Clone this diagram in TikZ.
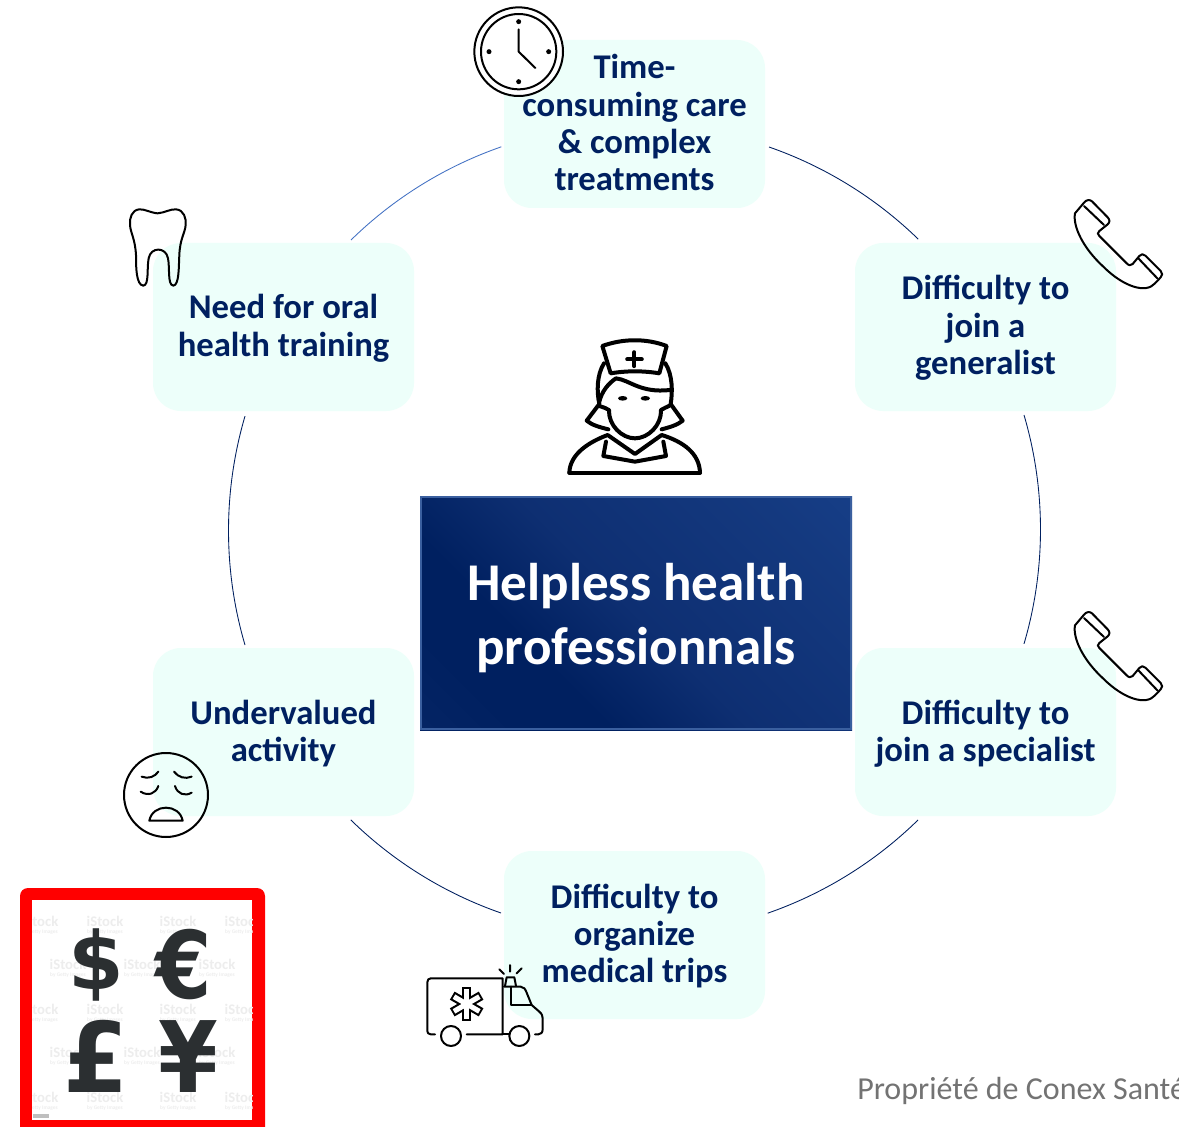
\documentclass[tikz,border=0pt]{standalone}
\usepackage{fontspec}
\usepackage{graphicx}
\setmainfont{Carlito}
\newfontfamily\moneyfont{DejaVu Sans}
\usetikzlibrary{calc}
\definecolor{navy}{HTML}{002060}
\definecolor{mint}{HTML}{EDFFFA}
\definecolor{ink}{HTML}{2B2F31}
\definecolor{arcblue}{HTML}{4472C4}
\definecolor{rimblue}{HTML}{3A5F9F}
\definecolor{gA}{HTML}{2A4A8A}
\definecolor{gB}{HTML}{082868}
\definecolor{gC}{HTML}{0E2F72}
\definecolor{gD}{HTML}{14397F}
\definecolor{gE}{HTML}{17408A}
\definecolor{gF}{HTML}{1E4A98}
\definecolor{gG}{HTML}{2A55A5}
\pgfdeclarehorizontalshading{helpless}{100bp}{
  color(0bp)=(gA); color(5bp)=(gB); color(25bp)=(navy); color(35bp)=(navy);
  color(50bp)=(gC); color(75bp)=(gD); color(90bp)=(gE); color(96bp)=(gF); color(100bp)=(gG)}
\tikzset{
  topic/.style={draw=none,fill=mint,rounded corners=21pt,minimum width=195.75pt,minimum height=126pt,inner sep=0pt,
    text=navy,font=\fontsize{26}{28}\selectfont\bfseries},
  ring/.style={draw=navy,line width=0.65pt},
  icon/.style={draw=black,line width=1.5pt,line join=round,line cap=round},
  money/.style={text=ink,font=\fontsize{70}{70}\moneyfont\bfseries,inner sep=0pt},
  wm/.style={text=black!7,font=\fontsize{11}{4}\selectfont\bfseries,inner sep=0pt,align=center},
}
% centred lines, nudged by #1 inside their panel without moving the panel
\newcommand{\toplines}[2]{\raisebox{#1}[\height][\depth]{\begin{tabular}{@{}c@{}}#2\end{tabular}}}
\newcommand{\phoneicon}{%
  \draw[icon] (45,70) -- (72,38) .. controls (80,28) and (90,28) .. (97,35) -- (143,82) .. controls (150,90) and (150,96) .. (143,103) -- (118,123) .. controls (112,128) and (112,133) .. (118,138) -- (200,220) .. controls (207,227) and (212,227) .. (218,222) -- (238,198) .. controls (244,191) and (250,191) .. (256,197) -- (302,243) .. controls (308,250) and (308,256) .. (302,262) -- (285,280) .. controls (258,312) and (190,290) .. (130,230) .. controls (70,175) and (38,110) .. (45,70) -- cycle;
  \draw[icon] (72,48) -- (132,105) (235,205) -- (292,265);
}
\begin{document}
\begin{tikzpicture}[x=0.75pt,y=-0.75pt]
\useasboundingbox (0,0) rectangle (1179,1127);
\clip (0,0) rectangle (1179,1127);
\fill[white] (0,0) rectangle (1179,1127);

% ring, arc by arc
\coordinate (a1) at (351,240);
\coordinate (a2) at (769,147);
\coordinate (a3) at (1024,415);
\coordinate (a4) at (918,820);
\coordinate (a5) at (501,913);
\coordinate (a6) at (245,645);
\draw[ring,draw=arcblue] (a1) arc[start angle=134.4,end angle=109.2,radius=304pt];
\draw[ring] (a2) arc[start angle=70.8,end angle=45.8,radius=304pt];
\draw[ring] (a3) arc[start angle=16.4,end angle=-16.4,radius=304pt];
\draw[ring] (a4) arc[start angle=-45.6,end angle=-70.8,radius=304pt];
\draw[ring] (a5) arc[start angle=-109.2,end angle=-134.4,radius=304pt];
\draw[ring] (a6) arc[start angle=196.4,end angle=163.6,radius=304pt];

% topics
\node[topic] (care) at (634.5,124) {\toplines{-2.6pt}{Time-\\consuming care\\\& complex\\treatments}};
\node[topic] (gen) at (985.5,327) {\toplines{-1.9pt}{Difficulty to\\join a\\generalist}};
\node[topic] (spec) at (985.5,732) {\toplines{-2.6pt}{Difficulty to\\join a specialist}};
\node[topic] (trips) at (634.5,935) {\toplines{-2.25pt}{Difficulty to\\organize\\medical trips}};
\node[topic] (activity) at (283.5,732) {\toplines{-2.6pt}{Undervalued\\activity}};
\node[topic] (oral) at (283.5,327) {\toplines{-2.25pt}{Need for oral\\health training}};

% centre
\shade[shading=helpless,shading angle=45] (420,496) rectangle (852,730);
\draw[draw=rimblue,line width=1.5pt] (421,497) rectangle (851,729);
\node[text=white,font=\fontsize{39.8}{48}\selectfont\bfseries,align=center,inner sep=0pt] (main) at (636,618) {Helpless health\\professionnals};

% clock
\begin{scope}[shift={(460,0)},x=0.25pt,y=-0.25pt]
\draw[icon,fill=white] (176,155) circle[radius=133];
\draw[icon] (176,155) circle[radius=113];
\draw[icon] (176,88) -- (176,155) -- (226,204);
\foreach \p in {(176,65),(176,245),(87,155),(266,155)} \fill[black] \p circle[radius=7.5];
\end{scope}

% nurse
\begin{scope}[shift={(540,330)},x=0.25pt,y=-0.25pt,line width=3pt,line join=round,line cap=round]
\draw (187,48) .. controls (250,25) and (320,25) .. (380,48) -- (358,130) .. controls (310,122) and (260,122) .. (212,130) -- cycle;
\draw[line width=3.2pt] (262,88) -- (305,88) (283,67) -- (283,108);
\draw (192,100) .. controls (170,135) and (170,185) .. (178,222) -- (140,272) .. controls (155,285) and (180,292) .. (205,298);
\draw (376,100) .. controls (398,135) and (398,185) .. (392,222) -- (428,272) .. controls (413,285) and (388,292) .. (365,298);
\draw (178,215) .. controls (185,185) and (205,160) .. (228,145) .. controls (270,150) and (300,190) .. (390,180);
\draw (178,228) .. controls (190,232) and (200,235) .. (207,240) .. controls (205,285) and (245,325) .. (285,325) .. controls (325,325) and (365,285) .. (363,240) .. controls (370,235) and (380,232) .. (392,225);
\fill (248,205) ellipse[x radius=14,y radius=7];
\fill (316,205) ellipse[x radius=14,y radius=7];
\draw (88,428) -- (480,428);
\draw (88,428) .. controls (90,370) and (150,335) .. (203,315) -- (285,372) -- (365,315) .. controls (430,335) and (478,370) .. (480,428);
\draw (198,335) -- (190,378) -- (285,395) -- (378,378) -- (370,335);
\end{scope}

% phones
\begin{scope}[shift={(1060,190)},x=0.25pt,y=-0.25pt] \phoneicon \end{scope}
\begin{scope}[shift={(1060,602)},x=0.25pt,y=-0.25pt] \phoneicon \end{scope}

% tooth
\begin{scope}[shift={(110,200)},x=0.25pt,y=-0.25pt]
\draw[icon] (143,40) .. controls (120,38) and (105,27) .. (88,28) .. controls (65,30) and (58,55) .. (60,75) .. controls (62,100) and (75,115) .. (78,165) .. controls (78,200) and (78,255) .. (100,257) .. controls (118,255) and (110,205) .. (116,175) .. controls (122,140) and (168,140) .. (174,175) .. controls (180,205) and (172,255) .. (190,257) .. controls (208,255) and (206,200) .. (208,165) .. controls (210,115) and (225,100) .. (227,75) .. controls (229,55) and (222,30) .. (198,28) .. controls (180,27) and (165,38) .. (143,40) -- cycle;
\end{scope}

% tired face
\begin{scope}[shift={(110,740)},x=0.25pt,y=-0.25pt]
\draw[icon] (168,165) circle[radius=126];
\draw[icon] (95,110) .. controls (115,118) and (135,110) .. (145,95);
\draw[icon] (192,95) .. controls (205,112) and (225,118) .. (245,110);
\draw[icon] (92,155) .. controls (115,170) and (138,160) .. (145,138);
\draw[icon] (195,138) .. controls (202,162) and (225,170) .. (245,158);
\draw[icon] (118,242) -- (218,242) .. controls (208,190) and (128,190) .. (118,242) -- cycle;
\end{scope}

% ambulance
\begin{scope}[shift={(410,950)},x=0.25pt,y=-0.25pt]
\draw[icon] (75,253) -- (62,253) .. controls (55,253) and (52,248) .. (52,243) -- (52,97) .. controls (52,90) and (56,85) .. (62,85) -- (278,85) -- (278,253) -- (170,253);
\draw[icon] (282,110) -- (332,110) .. controls (342,110) and (346,118) .. (350,128) -- (365,165) -- (388,185) .. controls (396,192) and (398,198) .. (398,205) -- (398,238) .. controls (398,248) and (392,253) .. (385,253) -- (375,253);
\draw[icon] (278,253) -- (297,253);
\draw[icon] (302,110) -- (302,165) -- (365,165);
\draw[icon] (123,258) circle[radius=30];
\draw[icon] (328,258) circle[radius=30];
\draw[icon] (285,108) -- (290,82) -- (313,82) -- (318,108);
\draw[icon] (300,45) -- (300,65) (268,58) -- (282,72) (335,55) -- (320,70);
\foreach \a in {0,60,120} {
  \draw[line width=7pt] ($(170,162)+(\a+90:-50)$) -- ($(170,162)+(\a+90:50)$);
}
\foreach \a in {0,60,120} {
  \draw[white,line width=3.8pt] ($(170,162)+(\a+90:-44)$) -- ($(170,162)+(\a+90:44)$);
}
\end{scope}

% currency panel
\fill[red,rounded corners=6pt] (20,888) rectangle (265,1140);
\fill[white] (32,900) rectangle (252,1120);
\begin{scope}
\clip (32,900) rectangle (252,1120);
\foreach \y in {925,1013,1101} \foreach \x in {40,105,178,243} {
  \node[wm] at (\x,\y) {iStock\\[1pt]{\fontsize{4}{4}\selectfont by Getty Images}};
}
\foreach \y in {968,1056} \foreach \x in {68,142,217} {
  \node[wm] at (\x,\y) {iStock\\[1pt]{\fontsize{4}{4}\selectfont by Getty Images}};
}
\end{scope}
\fill[black!25] (33,1114) rectangle (49,1118);
\node[money,font=\fontsize{60}{60}\moneyfont\bfseries] (dollar) at (96.5,965) {\$};
\node[money] (euro) at (183.5,965) {\scalebox{.87}[1]{€}};
\node[money,font=\fontsize{73}{73}\moneyfont\bfseries] (pound) at (96,1056) {\scalebox{.96}[1]{£}};
\node[money,font=\fontsize{74}{74}\moneyfont\bfseries] (yen) at (188,1057) {\scalebox{.87}[1]{¥}};

% ownership mention
\node[anchor=west,text=black!55,font=\fontsize{24}{24}\selectfont,inner sep=0pt] (prop) at (857,1091) {Propriété de Conex Santé};
\end{tikzpicture}
\end{document}
